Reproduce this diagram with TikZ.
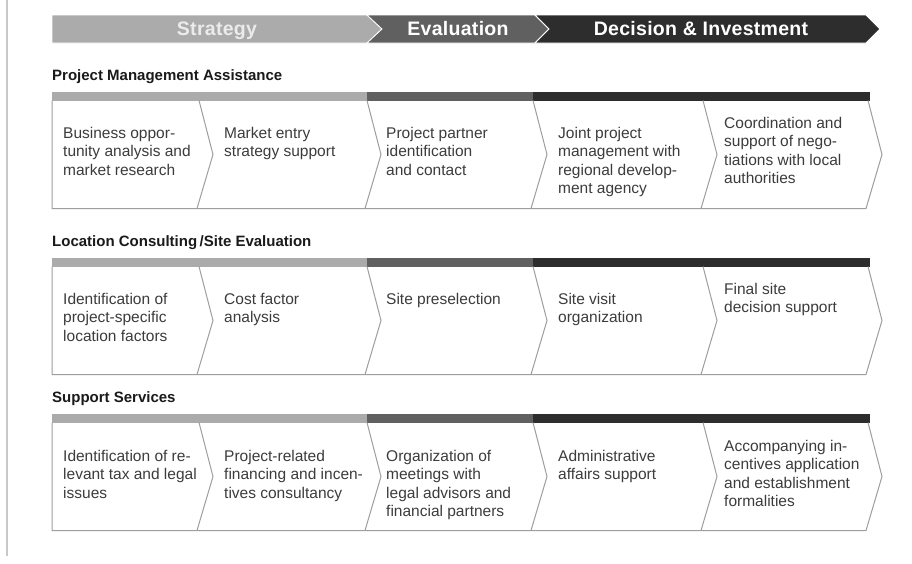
\documentclass[tikz,border=0pt]{standalone}
\usepackage{fontspec}
\setmainfont{Liberation Sans}
\definecolor{cLight}{HTML}{ABABAB}
\definecolor{cMid}{HTML}{606060}
\definecolor{cDark}{HTML}{2D2D2D}
\definecolor{cBorder}{HTML}{9E9E9E}
\definecolor{cText}{HTML}{3C3C3C}
\definecolor{cTitle}{HTML}{1A1A1A}
\definecolor{cSide}{HTML}{C8C8C8}
\tikzset{
  bannertext/.style={anchor=base, text=white, font=\fontsize{19.5}{22}\selectfont\bfseries\addfontfeature{LetterSpace=1.5}},
  secttitle/.style={anchor=base west, inner sep=0pt, text=cTitle, font=\fontsize{15}{17}\selectfont\bfseries},
  celltext/.style={anchor=north west, inner sep=0pt, align=left, text=cText, font=\fontsize{15.5}{18.5}\selectfont},
  boxline/.style={draw=cBorder, line width=1pt, line join=miter},
}
\begin{document}
\begin{tikzpicture}[x=1pt,y=-1pt]
\useasboundingbox (0,0) rectangle (912,563);
\fill[white] (0,0) rectangle (912,563);
% side line
\draw[cSide, line width=2pt] (7,0) -- (7,556);
% banner
\fill[cLight, draw=white, line width=0.8pt] (52,15) -- (367,15) -- (382,29) -- (367,43) -- (52,43) -- cycle;
\fill[cMid, draw=white, line width=0.8pt] (367,15) -- (535,15) -- (549,29) -- (535,43) -- (367,43) -- (382,29) -- cycle;
\fill[cDark, draw=white, line width=0.8pt] (535,15) -- (866,15) -- (880,29) -- (866,43) -- (535,43) -- (549,29) -- cycle;
\node[bannertext, text=white!92!black] (bStrat) at (217,35) {Strategy};
\node[bannertext] (bEval) at (458,35) {Evaluation};
\node[bannertext] (bDec) at (701,35) {Decision \& Investment};
% rows
\foreach \T/\name/\ttl in {92/r1/{Project Management Assistance}, 258/r2/{Location Consulting\,/Site Evaluation}, 414/r3/{Support Services}}{
  \node[secttitle] (\name title) at (52,\T-12) {\ttl};
  \fill[cLight] (52,\T) rectangle (367,\T+8.5);
  \fill[cMid] (367,\T) rectangle (533,\T+8.5);
  \fill[cDark] (533,\T) rectangle (870,\T+8.5);
  \pgfmathsetmacro{\top}{\T+8.5}
  \pgfmathsetmacro{\bot}{\T+116.5}
  \pgfmathsetmacro{\mid}{\T+62.5}
  \draw[boxline] (868,\top) -- (882,\mid) -- (866,\bot) -- (52,\bot) -- (52,\top);
  \foreach \b in {199,367,533,703}{
    \draw[boxline] (\b,\top) -- (\b+14,\mid) -- (\b-2,\bot);
  }
}
% row 1 texts
\node[celltext] (r1c1) at (63,127) {Business oppor-\\tunity analysis and\\market research};
\node[celltext] (r1c2) at (224,127) {Market entry\\strategy support};
\node[celltext] (r1c3) at (386,127) {Project partner\\identification\\and contact};
\node[celltext] (r1c4) at (558,127) {Joint project\\management with\\regional develop-\\ment agency};
\node[celltext] (r1c5) at (724,117) {Coordination and\\support of nego-\\tiations with local\\authorities};
% row 2 texts
\node[celltext] (r2c1) at (63,293) {Identification of\\project-specific\\location factors};
\node[celltext] (r2c2) at (224,293) {Cost factor\\analysis};
\node[celltext] (r2c3) at (386,293) {Site preselection};
\node[celltext] (r2c4) at (558,293) {Site visit\\organization};
\node[celltext] (r2c5) at (724,283) {Final site\\decision support};
% row 3 texts
\node[celltext] (r3c1) at (63,450) {Identification of re-\\levant tax and legal\\issues};
\node[celltext] (r3c2) at (224,450) {Project-related\\financing and incen-\\tives consultancy};
\node[celltext] (r3c3) at (386,450) {Organization of\\meetings with\\legal advisors and\\financial partners};
\node[celltext] (r3c4) at (558,450) {Administrative\\affairs support};
\node[celltext] (r3c5) at (724,440) {Accompanying in-\\centives application\\and establishment\\formalities};
\end{tikzpicture}
\end{document}
